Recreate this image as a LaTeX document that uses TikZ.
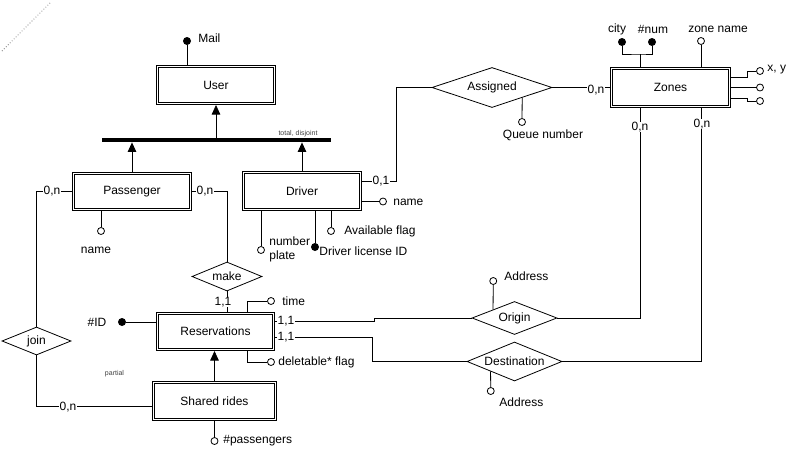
\documentclass[tikz,border=0pt]{standalone}
\usepackage{fontspec}
\setmainfont{Liberation Sans}
\usetikzlibrary{arrows.meta,shapes.geometric}

\begin{document}
\begin{tikzpicture}[x=1pt,y=-1pt, line width=0.8pt,
  every node/.style={font=\fontsize{12}{14}\selectfont, inner sep=1pt},
  entity/.style={draw, inner sep=0, outer sep=0.4pt,
    append after command={\pgfextra{\begin{pgfinterruptpath}
      \draw ([shift={(2.6pt,-2.6pt)}]\tikzlastnode.north west)
        rectangle ([shift={(-2.6pt,2.6pt)}]\tikzlastnode.south east);
    \end{pgfinterruptpath}}}},
  relation/.style={draw, shape=diamond, inner sep=0, aspect=1},
  attr/.style={circle, draw, fill=white, minimum size=7pt, inner sep=0},
  keyattr/.style={circle, fill=black, minimum size=8pt, inner sep=0},
  card/.style={fill=white, inner sep=0.5pt},
  isarrow/.style={-{Triangle[width=8.5pt,length=9.5pt]}},
  tinytext/.style={font=\fontsize{7}{8}\selectfont, text=black!75},
]
\useasboundingbox (0,0) rectangle (798,453);

% stray dotted guide in the corner
\coordinate (d1) at (2,51);
\coordinate (d2) at (51,2);
\draw[dotted, gray] (d1) -- (d2);

% ---------- entities ----------
\node[entity, minimum width=119.2pt, minimum height=39.2pt] (user) at (216,85) {User};
\node[entity, minimum width=119.2pt, minimum height=38.2pt] (passenger) at (132,191.5) {Passenger};
\node[entity, minimum width=119.2pt, minimum height=39.2pt] (driver) at (302,191) {Driver};
\node[entity, minimum width=120.2pt, minimum height=40.2pt] (zones) at (670.5,87.5) {Zones};
\node[entity, minimum width=118.2pt, minimum height=38.2pt] (res) at (215.5,331.5) {Reservations};
\node[entity, minimum width=124.2pt, minimum height=39.2pt] (shared) at (214.5,401) {Shared rides};

% ---------- relationships ----------
\node[relation, minimum width=120pt, minimum height=40pt] (assigned) at (492,87.5) {\makebox[0pt]{Assigned}};
\node[relation, minimum width=70pt, minimum height=29pt] (make) at (227,276.5) {\makebox[0pt]{make}};
\node[relation, minimum width=69pt, minimum height=28pt] (join) at (36.5,341) {\makebox[0pt]{join}};
\node[relation, minimum width=85pt, minimum height=33pt] (origin) at (514.5,318) {\makebox[0pt]{Origin}};
\node[relation, minimum width=95pt, minimum height=39pt] (dest) at (514.5,361.5) {\makebox[0pt]{Destination}};

% ---------- generalisation User -> Passenger / Driver ----------
\node[fill=black, minimum width=229pt, minimum height=4pt, inner sep=0] (isa) at (216.5,140) {};
\draw[isarrow] (isa.north -| user.south) -- (user.south);
\draw[isarrow] (passenger.north) -- (passenger.north |- isa.south);
\draw[isarrow] (driver.north) -- (driver.north |- isa.south);
\node[tinytext] at (298,134) {total, disjoint};

% ---------- User attributes ----------
\node[keyattr] (mail) at (187,41) {};
\draw (mail) -- (mail |- user.north);
\node[anchor=west] at (197,38) {Mail};

% ---------- Passenger ----------
\node[attr] (pname) at (101,231) {};
\draw (pname) -- (pname |- passenger.south);
\node at (96,250) {name};

\draw (passenger.west) -| (join.north);
\node[card] at (52,191.5) {0,n};
\draw (join.south) |- ([yshift=-5pt]shared.west);
\node[card] at (68,407) {0,n};

\draw (passenger.east) -| (make.north);
\node[card] at (205,191.5) {0,n};
\draw (make.south) -- (make.south |- res.north);
\node[card] at (223,302) {1,1};

% ---------- Driver ----------
\draw ([yshift=10pt]driver.east) -- ++(34,0) |- (assigned.west);
\node[card] at (381,181) {0,1};

\node[attr] (dname) at (383,201.5) {};
\draw ([yshift=-10.5pt]driver.east) -- (dname);
\node[anchor=west] at (392,202) {name};

\node[attr] (avail) at (331,231) {};
\draw (avail) -- (avail |- driver.south);
\node[anchor=west] at (343,231) {Available flag};

\node[attr] (plate) at (261,250) {};
\draw (plate) -- (plate |- driver.south);
\node[anchor=west, align=left, inner sep=0] at (269,249) {number\\plate};

\node[keyattr] (lic) at (315,247) {};
\draw (lic) -- (lic |- driver.south);
\node[anchor=west] at (318,251) {Driver license ID};

% ---------- Assigned ----------
\draw (assigned.east) -- (zones.west);
\node[card] at (596,90) {0,n};
\node[attr] (queue) at (522,122) {};
\draw (queue) -- (assigned.south east);
\node at (543,135) {Queue number};

% ---------- Zones ----------
\node[keyattr] (city) at (622,42) {};
\node[keyattr] (num) at (652,42) {};
\coordinate (zkey) at (640,54);
\draw (city) |- (zkey) -| (num);
\draw (zkey) -- (zkey |- zones.north);
\node at (617,29) {city};
\node at (653,29) {\#num};

\node[attr] (zname) at (701,41) {};
\draw (zname) -- (zname |- zones.north);
\node at (718,29) {zone name};

\node[attr] (xy) at (760,71) {};
\node[attr] (zr2) at (760,87.5) {};
\node[attr] (zr3) at (760,101) {};
\draw ([yshift=10.5pt]zones.east) -- ++(16,0) |- (xy);
\draw (zones.east) -- (zr2);
\draw ([yshift=-10.5pt]zones.east) -- ++(16,0) |- (zr3);
\node[anchor=west] at (766,70) {x, y};

\draw (origin.east) -| ([xshift=-30.5pt]zones.south);
\node[card] at (640,127) {0,n};
\draw (dest.east) -| ([xshift=30.5pt]zones.south);
\node[card] at (702,124) {0,n};

% ---------- Reservations ----------
\node[keyattr] (rid) at (122,322) {};
\draw (rid) -- (rid -| res.west);
\node at (97,322) {\#ID};

\node[attr] (time) at (271,301) {};
\draw (time) -| ([xshift=31.5pt]res.north);
\node[anchor=west] at (281,301) {time};

\node[attr] (del) at (271,362) {};
\draw (del) -| ([xshift=31.5pt]res.south);
\node[anchor=west] at (277,362) {deletable* flag};

\draw ([yshift=10.5pt]res.east) -- ++(99,0) |- (origin.west);
\node[card] at (286,321) {1,1};
\draw ([yshift=-5.5pt]res.east) -- ++(97,0) |- (dest.west);
\node[card] at (286,337) {1,1};

% ---------- Origin / Destination ----------
\node[attr] (oaddr) at (493.25,281) {};
\draw (oaddr) -- (origin.north west);
\node[anchor=west] at (503,276) {Address};

\node[attr] (daddr) at (490.75,391) {};
\draw (daddr) -- (dest.south west);
\node[anchor=west] at (498,402) {Address};

% ---------- Shared rides ----------
\draw[isarrow] (shared.north) -- (shared.north |- res.south);
\node[attr] (npass) at (214.5,441) {};
\draw (npass) -- (shared.south);
\node[anchor=west] at (222,441) {\#passengers};
\node[tinytext] at (114.5,374) {partial};

\end{tikzpicture}
\end{document}
